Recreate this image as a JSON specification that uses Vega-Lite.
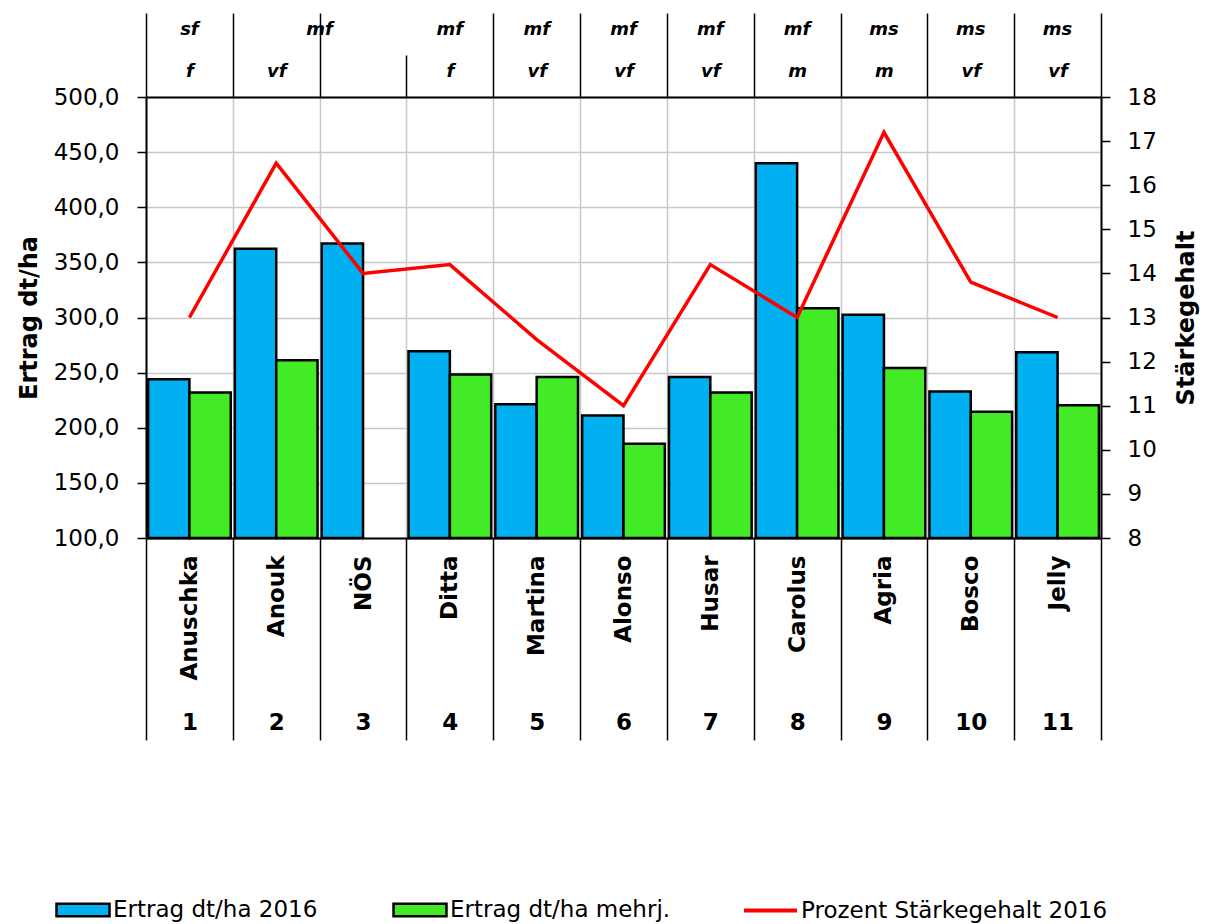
{
  "$schema": "https://vega.github.io/schema/vega-lite/v6.json",
  "width": 955,
  "height": 441,
  "autosize": "none",
  "padding": {"left": 146, "top": 97, "right": 107, "bottom": 386},
  "background": "white",
  "config": {"view": {"stroke": null}, "font": "DejaVu Sans"},
  "datasets": {
    "cats": [
      {"nr": 1, "name": "Anuschka", "h1": "sf", "h2": "f", "starch": 13.0},
      {"nr": 2, "name": "Anouk", "h1": "mf", "h2": "vf", "starch": 16.5},
      {"nr": 3, "name": "NÖS", "h1": "", "h2": "", "starch": 14.0},
      {"nr": 4, "name": "Ditta", "h1": "mf", "h2": "f", "starch": 14.2},
      {"nr": 5, "name": "Martina", "h1": "mf", "h2": "vf", "starch": 12.5},
      {"nr": 6, "name": "Alonso", "h1": "mf", "h2": "vf", "starch": 11.0},
      {"nr": 7, "name": "Husar", "h1": "mf", "h2": "vf", "starch": 14.2},
      {"nr": 8, "name": "Carolus", "h1": "mf", "h2": "m", "starch": 13.0},
      {"nr": 9, "name": "Agria", "h1": "ms", "h2": "m", "starch": 17.2},
      {"nr": 10, "name": "Bosco", "h1": "ms", "h2": "vf", "starch": 13.8},
      {"nr": 11, "name": "Jelly", "h1": "ms", "h2": "vf", "starch": 13.0}
    ],
    "bars": [
      {"name": "Anuschka", "series": "Ertrag dt/ha 2016", "value": 243.9},
      {"name": "Anuschka", "series": "Ertrag dt/ha mehrj.", "value": 231.9},
      {"name": "Anouk", "series": "Ertrag dt/ha 2016", "value": 362.4},
      {"name": "Anouk", "series": "Ertrag dt/ha mehrj.", "value": 261.3},
      {"name": "NÖS", "series": "Ertrag dt/ha 2016", "value": 367.2},
      {"name": "Ditta", "series": "Ertrag dt/ha 2016", "value": 269.5},
      {"name": "Ditta", "series": "Ertrag dt/ha mehrj.", "value": 248.2},
      {"name": "Martina", "series": "Ertrag dt/ha 2016", "value": 221.3},
      {"name": "Martina", "series": "Ertrag dt/ha mehrj.", "value": 246.0},
      {"name": "Alonso", "series": "Ertrag dt/ha 2016", "value": 211.1},
      {"name": "Alonso", "series": "Ertrag dt/ha mehrj.", "value": 185.5},
      {"name": "Husar", "series": "Ertrag dt/ha 2016", "value": 246.0},
      {"name": "Husar", "series": "Ertrag dt/ha mehrj.", "value": 231.9},
      {"name": "Carolus", "series": "Ertrag dt/ha 2016", "value": 440.0},
      {"name": "Carolus", "series": "Ertrag dt/ha mehrj.", "value": 308.4},
      {"name": "Agria", "series": "Ertrag dt/ha 2016", "value": 302.4},
      {"name": "Agria", "series": "Ertrag dt/ha mehrj.", "value": 254.2},
      {"name": "Bosco", "series": "Ertrag dt/ha 2016", "value": 232.9},
      {"name": "Bosco", "series": "Ertrag dt/ha mehrj.", "value": 214.5},
      {"name": "Jelly", "series": "Ertrag dt/ha 2016", "value": 268.4},
      {"name": "Jelly", "series": "Ertrag dt/ha mehrj.", "value": 220.4}
    ]
  },
  "layer": [
    {
      "data": {"name": "bars"},
      "mark": {"type": "bar", "stroke": "black", "strokeWidth": 2.5},
      "encoding": {
        "x": {
          "field": "name", "type": "nominal", "sort": null,
          "scale": {"paddingInner": 0, "paddingOuter": 0},
          "axis": {
            "orient": "bottom", "title": null, "ticks": false,
            "domain": true, "domainColor": "black", "domainWidth": 2,
            "grid": true, "gridColor": "#c8c8c8", "gridWidth": 1.5, "tickBand": "extent",
            "labelAngle": 270, "labelAlign": "right", "labelBaseline": "middle", "labelPadding": 17,
            "labelFont": "DejaVu Sans", "labelFontWeight": "bold", "labelFontSize": 23, "labelColor": "black"
          }
        },
        "xOffset": {
          "field": "series", "type": "nominal",
          "scale": {"domain": ["Ertrag dt/ha 2016", "Ertrag dt/ha mehrj."], "paddingInner": 0, "paddingOuter": 0.05}
        },
        "y": {
          "field": "value", "type": "quantitative",
          "scale": {"domain": [100, 500], "zero": false, "nice": false},
          "axis": {
            "orient": "left", "title": "Ertrag dt/ha",
            "values": [100, 150, 200, 250, 300, 350, 400, 450, 500],
            "labelExpr": "replace(format(datum.value, '.1f'), '.', ',')",
            "tickSize": 9, "tickColor": "black", "tickWidth": 1.5,
            "domainColor": "black", "domainWidth": 2,
            "grid": true, "gridColor": "#c8c8c8", "gridWidth": 1.5,
            "labelFont": "DejaVu Sans", "labelFontSize": 23, "labelColor": "black", "labelPadding": 18,
            "titleFont": "DejaVu Sans", "titleFontSize": 24, "titleFontWeight": "bold", "titleColor": "black", "titlePadding": 12
          }
        },
        "y2": {"datum": 100},
        "fill": {
          "field": "series", "type": "nominal",
          "scale": {
            "domain": ["Ertrag dt/ha 2016", "Ertrag dt/ha mehrj."],
            "range": ["#00B0F0", "#42EB26"]
          },
          "legend": {
            "orient": "none", "legendX": -91, "legendY": 785,
            "direction": "horizontal", "columns": 2, "title": null,
            "labelFont": "DejaVu Sans", "labelFontSize": 23, "labelColor": "black", "labelLimit": 500,
            "symbolSize": 2809, "labelOffset": 2, "columnPadding": 70,
            "symbolType": "M-1,-0.24H1V0.24H-1Z", "symbolStrokeWidth": 2.5, "symbolStrokeColor": "black", "symbolOpacity": 1
          }
        }
      }
    },
    {
      "data": {"name": "cats"},
      "mark": {"type": "line", "strokeWidth": 3.5},
      "encoding": {
        "x": {
          "field": "name", "type": "nominal", "sort": null,
          "axis": {
            "orient": "bottom", "title": null, "domain": false, "grid": false,
            "ticks": true, "tickBand": "extent", "tickSize": 202, "tickColor": "black", "tickWidth": 1.5,
            "labelExpr": "indexof(domain('x'), datum.value) >= 0 ? indexof(domain('x'), datum.value) + 1 : ''",
            "labelAngle": 0, "labelAlign": "center", "labelBaseline": "middle", "labelPadding": -18,
            "labelFont": "DejaVu Sans", "labelFontWeight": "bold", "labelFontSize": 23, "labelColor": "black"
          }
        },
        "y": {
          "field": "starch", "type": "quantitative",
          "scale": {"domain": [8, 18], "zero": false, "nice": false},
          "axis": {
            "orient": "right", "title": "Stärkegehalt",
            "values": [8, 9, 10, 11, 12, 13, 14, 15, 16, 17, 18],
            "grid": false, "tickSize": 9, "tickColor": "black", "tickWidth": 1.5,
            "domainColor": "black", "domainWidth": 2,
            "labelFont": "DejaVu Sans", "labelFontSize": 23, "labelColor": "black", "labelPadding": 17,
            "titleAngle": 270, "titleBaseline": "top",
            "titleFont": "DejaVu Sans", "titleFontSize": 24, "titleFontWeight": "bold", "titleColor": "black", "titlePadding": 18
          }
        },
        "stroke": {
          "datum": "Prozent Stärkegehalt 2016",
          "scale": {"domain": ["Prozent Stärkegehalt 2016"], "range": ["#FF0000"]},
          "legend": {
            "orient": "none", "legendX": 596, "legendY": 785, "title": null,
            "labelFont": "DejaVu Sans", "labelFontSize": 23, "labelColor": "black", "labelLimit": 500,
            "symbolSize": 2809, "labelOffset": 2,
            "symbolType": "stroke", "symbolStrokeWidth": 4, "symbolOpacity": 1
          }
        }
      }
    },
    {
      "data": {"name": "cats"},
      "mark": {"type": "point", "opacity": 0},
      "encoding": {
        "x": {
          "field": "name", "type": "nominal", "sort": null,
          "axis": {
            "orient": "top", "title": null, "domain": false, "ticks": false, "grid": false,
            "labelExpr": "{'Anuschka':'sf','Anouk':'mf','Ditta':'mf','Martina':'mf','Alonso':'mf','Husar':'mf','Carolus':'mf','Agria':'ms','Bosco':'ms','Jelly':'ms'}[datum.value] || ''",
            "labelAngle": 0, "labelAlign": "center", "labelBaseline": "middle", "labelPadding": 68,
            "labelOffset": {"condition": {"test": "datum.value === 'Anouk'", "value": 43.4}, "value": 0},
            "labelFont": "DejaVu Sans", "labelFontStyle": "italic", "labelFontWeight": "bold", "labelFontSize": 18, "labelColor": "black"
          }
        }
      }
    },
    {
      "data": {"name": "cats"},
      "mark": {"type": "point", "opacity": 0},
      "encoding": {
        "x": {
          "field": "name", "type": "nominal", "sort": null,
          "axis": {
            "orient": "top", "title": null, "grid": false,
            "domain": true, "domainColor": "black", "domainWidth": 2,
            "ticks": true, "tickBand": "extent", "tickColor": "black", "tickWidth": 1.5,
            "tickSize": {"condition": {"test": "datum.value === 'NÖS'", "value": 42}, "value": 84},
            "labelExpr": "{'Anuschka':'f','Anouk':'vf','Ditta':'f','Martina':'vf','Alonso':'vf','Husar':'vf','Carolus':'m','Agria':'m','Bosco':'vf','Jelly':'vf'}[datum.value] || ''",
            "labelAngle": 0, "labelAlign": "center", "labelBaseline": "middle", "labelPadding": -58,
            "labelFont": "DejaVu Sans", "labelFontStyle": "italic", "labelFontWeight": "bold", "labelFontSize": 18, "labelColor": "black"
          }
        }
      }
    }
  ],
  "resolve": {"scale": {"y": "independent"}, "axis": {"x": "independent", "y": "independent"}}
}
